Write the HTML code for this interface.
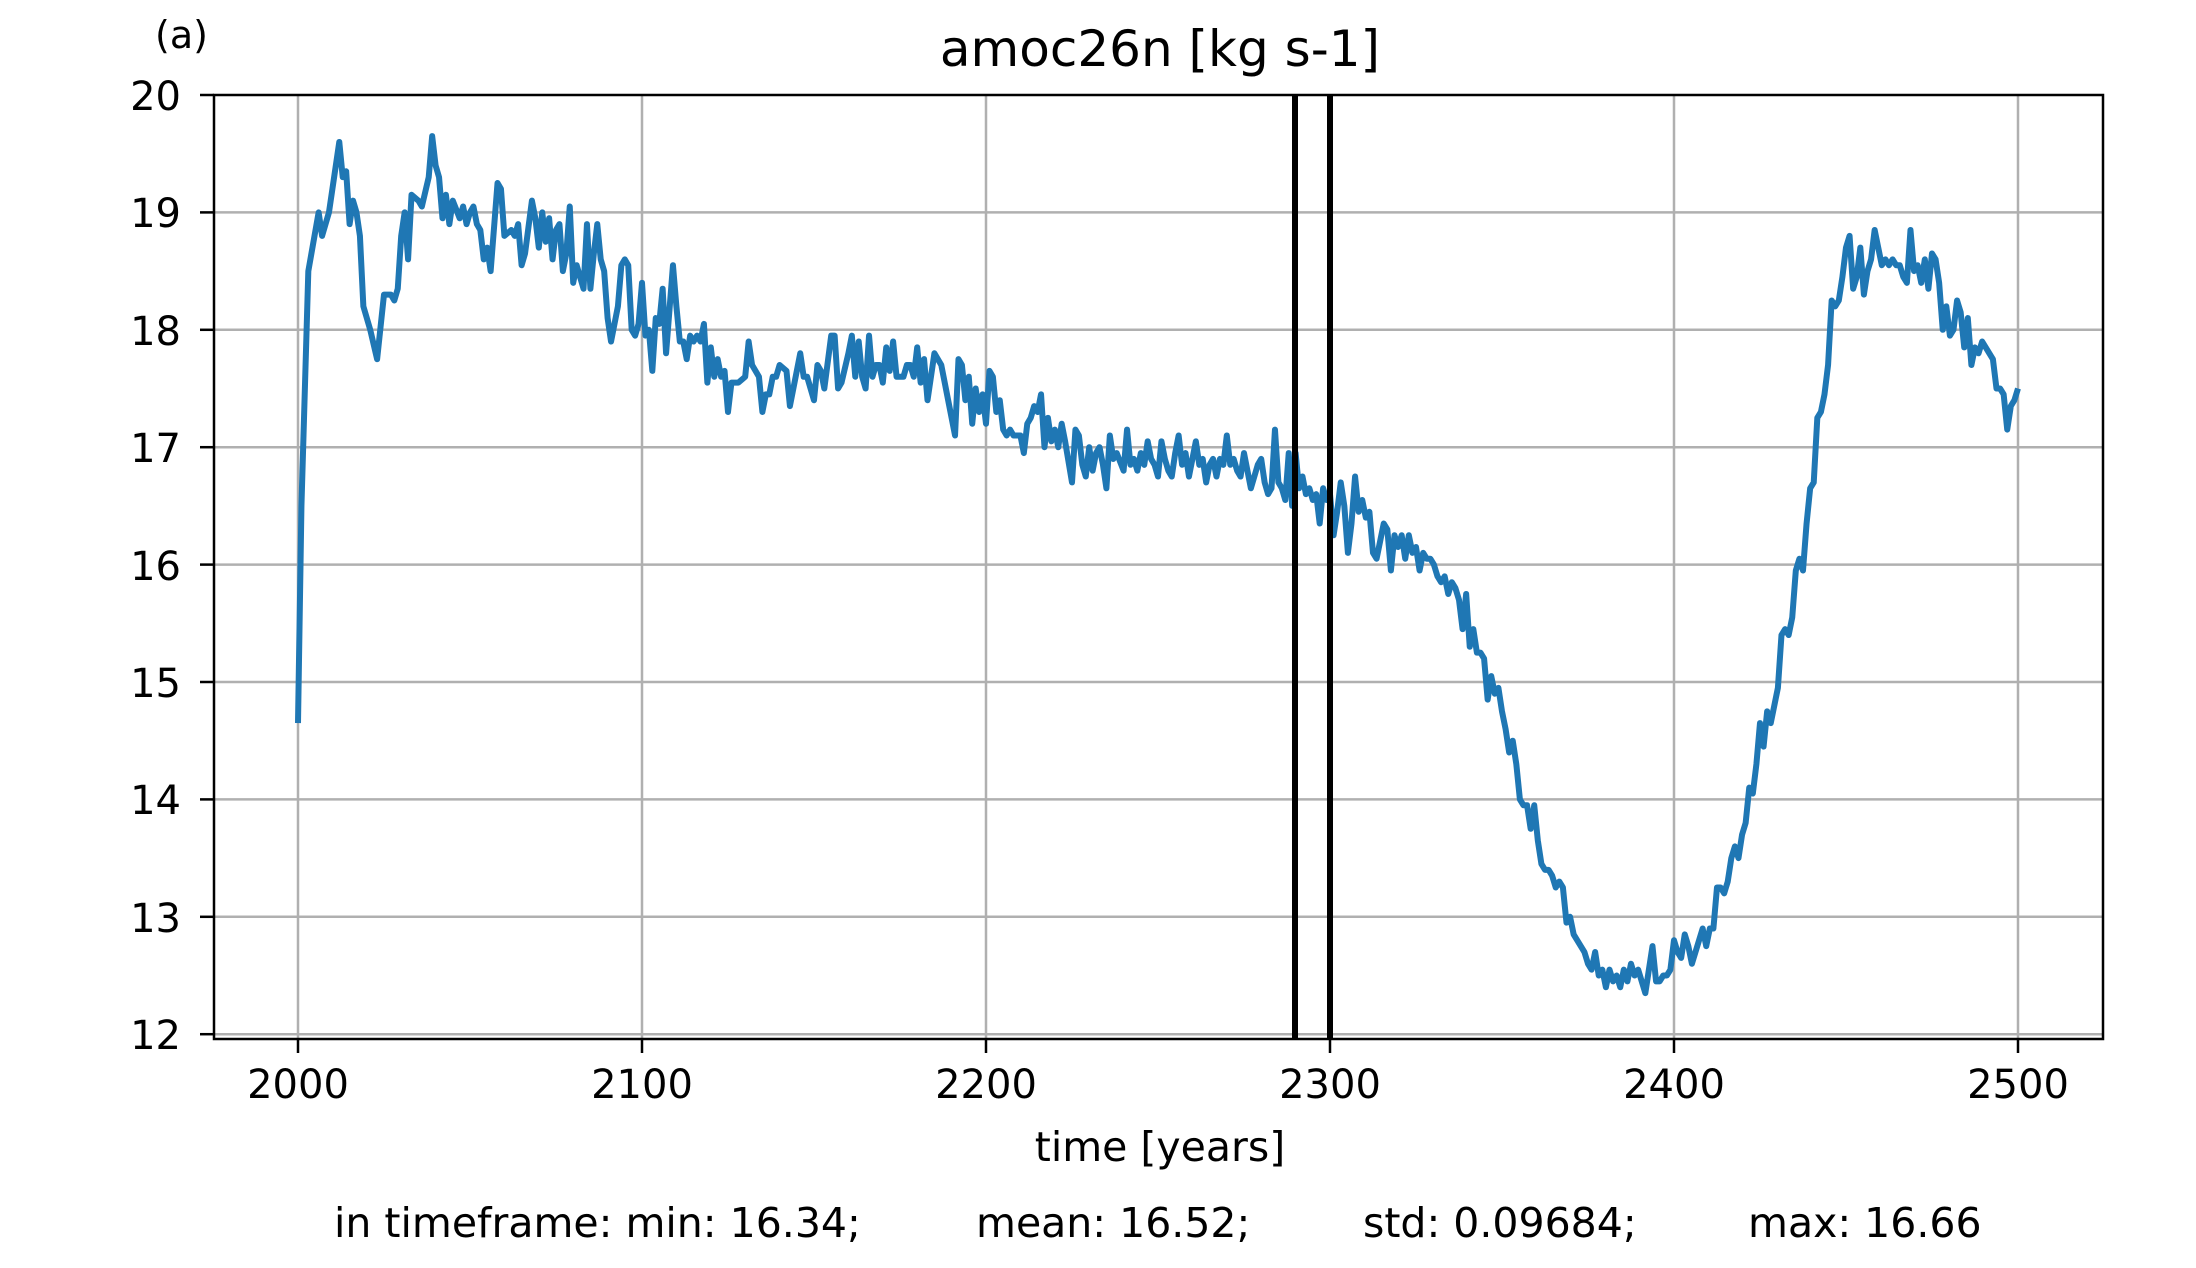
<!DOCTYPE html>
<html><head><meta charset="utf-8"><style>
html,body{margin:0;padding:0;background:#fff;}
svg text{font-family:"DejaVu Sans","Liberation Sans",sans-serif;fill:#000;}
</style></head><body>
<svg width="2196" height="1263" viewBox="0 0 2196 1263" xmlns="http://www.w3.org/2000/svg">
<rect width="2196" height="1263" fill="#fff"/>
<g stroke="#b0b0b0" stroke-width="2.5">
<line x1="298" y1="95" x2="298" y2="1039"/>
<line x1="642" y1="95" x2="642" y2="1039"/>
<line x1="986" y1="95" x2="986" y2="1039"/>
<line x1="1330" y1="95" x2="1330" y2="1039"/>
<line x1="1674" y1="95" x2="1674" y2="1039"/>
<line x1="2018" y1="95" x2="2018" y2="1039"/>
<line x1="214" y1="212.4" x2="2103" y2="212.4"/>
<line x1="214" y1="329.8" x2="2103" y2="329.8"/>
<line x1="214" y1="447.2" x2="2103" y2="447.2"/>
<line x1="214" y1="564.6" x2="2103" y2="564.6"/>
<line x1="214" y1="682" x2="2103" y2="682"/>
<line x1="214" y1="799.4" x2="2103" y2="799.4"/>
<line x1="214" y1="916.8" x2="2103" y2="916.8"/>
<line x1="214" y1="1034.2" x2="2103" y2="1034.2"/>
</g>
<polyline transform="matrix(3.44,0,0,-117.4,298,2443)" vector-effect="non-scaling-stroke" fill="none" stroke="#1f77b4" stroke-width="6" stroke-linejoin="round" points="0,14.65 1,16.5 3,18.5 6,19.0 7,18.8 9,19.0 10,19.2 12,19.6 13,19.3 14,19.35 15,18.9 16,19.1 17,19.0 18,18.8 19,18.2 21,18.0 23,17.75 25,18.3 27,18.3 28,18.25 29,18.35 30,18.8 31,19.0 32,18.6 33,19.15 35,19.1 36,19.05 38,19.3 39,19.65 40,19.4 41,19.3 42,18.95 43,19.15 44,18.9 45,19.1 47,18.95 48,19.05 49,18.9 50,19.0 51,19.05 52,18.9 53,18.85 54,18.6 55,18.7 56,18.5 58,19.25 59,19.2 60,18.8 62,18.85 63,18.8 64,18.9 65,18.55 66,18.65 68,19.1 69,18.95 70,18.7 71,19.0 72,18.75 73,18.95 74,18.6 75,18.85 76,18.9 77,18.5 78,18.65 79,19.05 80,18.4 81,18.55 82,18.45 83,18.35 84,18.9 85,18.35 86,18.65 87,18.9 88,18.6 89,18.5 90,18.1 91,17.9 93,18.2 94,18.55 95,18.6 96,18.55 97,18.0 98,17.95 99,18.05 100,18.4 101,17.95 102,18.0 103,17.65 104,18.1 105,18.05 106,18.35 107,17.8 109,18.55 110,18.2 111,17.9 112,17.9 113,17.75 114,17.95 115,17.9 116,17.95 117,17.9 118,18.05 119,17.55 120,17.85 121,17.6 122,17.75 123,17.6 124,17.65 125,17.3 126,17.55 128,17.55 130,17.6 131,17.9 132,17.7 133,17.65 134,17.6 135,17.3 136,17.45 137,17.45 138,17.6 139,17.6 140,17.7 142,17.65 143,17.35 145,17.65 146,17.8 147,17.6 148,17.6 150,17.4 151,17.7 152,17.65 153,17.5 155,17.95 156,17.95 157,17.5 158,17.55 160,17.8 161,17.95 162,17.6 163,17.9 164,17.6 165,17.5 166,17.95 167,17.6 168,17.7 169,17.7 170,17.55 171,17.85 172,17.65 173,17.9 174,17.6 176,17.6 177,17.7 178,17.7 179,17.6 180,17.85 181,17.55 182,17.75 183,17.4 185,17.8 187,17.7 189,17.4 191,17.1 192,17.75 193,17.7 194,17.4 195,17.6 196,17.2 197,17.5 198,17.3 199,17.45 200,17.2 201,17.65 202,17.6 203,17.3 204,17.4 205,17.15 206,17.1 207,17.15 208,17.1 209,17.1 210,17.1 211,16.95 212,17.2 213,17.25 214,17.35 215,17.3 216,17.45 217,17.0 218,17.25 219,17.05 220,17.15 221,17.0 222,17.2 223,17.05 225,16.7 226,17.15 227,17.1 228,16.85 229,16.75 230,17.0 231,16.8 232,16.95 233,17.0 234,16.85 235,16.65 236,17.1 237,16.9 238,16.95 240,16.8 241,17.15 242,16.85 243,16.9 244,16.8 245,16.95 246,16.85 247,17.05 248,16.9 249,16.85 250,16.75 251,17.05 252,16.9 253,16.8 254,16.75 255,16.95 256,17.1 257,16.85 258,16.95 259,16.75 260,16.9 261,17.05 262,16.85 263,16.9 264,16.7 265,16.85 266,16.9 267,16.75 268,16.9 269,16.85 270,17.1 271,16.85 272,16.9 273,16.8 274,16.75 275,16.95 276,16.8 277,16.65 278,16.75 279,16.85 280,16.9 281,16.7 282,16.6 283,16.65 284,17.15 285,16.7 286,16.65 287,16.55 288,16.95 289,16.5 290,16.95 291,16.65 292,16.75 293,16.6 294,16.65 295,16.55 296,16.6 297,16.35 298,16.65 299,16.55 300,16.6"/>
<polyline transform="matrix(3.5833,0,0,-117.4,255,2443)" vector-effect="non-scaling-stroke" fill="none" stroke="#1f77b4" stroke-width="6" stroke-linejoin="round" points="300,16.6 301,16.25 302,16.45 303,16.7 304,16.5 305,16.1 306,16.35 307,16.75 308,16.45 309,16.55 310,16.4 311,16.45 312,16.1 313,16.05 314,16.2 315,16.35 316,16.3 317,15.95 318,16.25 319,16.15 320,16.25 321,16.05 322,16.25 323,16.1 324,16.15 325,15.95 326,16.1 327,16.05 328,16.05 329,16.0 330,15.9 331,15.85 332,15.9 333,15.75 334,15.85 335,15.8 336,15.7 337,15.45 338,15.75 339,15.3 340,15.45 341,15.25 342,15.25 343,15.2 344,14.85 345,15.05 346,14.9 347,14.95 348,14.75 349,14.6 350,14.4 351,14.5 352,14.3 353,14.0 354,13.95 355,13.95 356,13.75 357,13.95 358,13.65 359,13.45 360,13.4 361,13.4 362,13.35 363,13.25 364,13.3 365,13.25 366,12.95 367,13.0 368,12.85 369,12.8 370,12.75 371,12.7 372,12.6 373,12.55 374,12.7 375,12.5 376,12.55 377,12.4 378,12.55 379,12.45 380,12.5 381,12.4 382,12.55 383,12.45 384,12.6 385,12.5 386,12.55 387,12.45 388,12.35 389,12.55 390,12.75 391,12.45 392,12.45 393,12.5 394,12.5 395,12.55 396,12.8 397,12.7 398,12.65 399,12.85 400,12.75 401,12.6 402,12.7 403,12.8 404,12.9 405,12.75 406,12.9 407,12.9 408,13.25 409,13.25 410,13.2 411,13.3 412,13.5 413,13.6 414,13.5 415,13.7 416,13.8 417,14.1 418,14.05 419,14.3 420,14.65 421,14.45 422,14.75 423,14.65 424,14.8 425,14.95 426,15.4 427,15.45 428,15.4 429,15.55 430,15.95 431,16.05 432,15.95 433,16.35 434,16.65 435,16.7 436,17.25 437,17.3 438,17.45 439,17.7 440,18.25 441,18.2 442,18.25 443,18.45 444,18.7 445,18.8 446,18.35 447,18.45 448,18.7 449,18.3 450,18.5 451,18.6 452,18.85 453,18.7 454,18.55 455,18.6 456,18.55 457,18.6 458,18.55 459,18.55 460,18.45 461,18.4 462,18.85 463,18.5 464,18.55 465,18.4 466,18.6 467,18.35 468,18.65 469,18.6 470,18.4 471,18.0 472,18.2 473,17.95 474,18.0 475,18.25 476,18.15 477,17.85 478,18.1 479,17.7 480,17.85 481,17.8 482,17.9 483,17.85 484,17.8 485,17.75 486,17.5 487,17.5 488,17.45 489,17.15 490,17.35 491,17.4 492,17.5"/>
<line x1="1295" y1="95" x2="1295" y2="1039" stroke="#000" stroke-width="6"/>
<line x1="1330" y1="95" x2="1330" y2="1039" stroke="#000" stroke-width="6"/>
<rect x="214" y="95" width="1889" height="944" fill="none" stroke="#000" stroke-width="2.5"/>
<g stroke="#000" stroke-width="2.5">
<line x1="298" y1="1039" x2="298" y2="1053"/>
<line x1="642" y1="1039" x2="642" y2="1053"/>
<line x1="986" y1="1039" x2="986" y2="1053"/>
<line x1="1330" y1="1039" x2="1330" y2="1053"/>
<line x1="1674" y1="1039" x2="1674" y2="1053"/>
<line x1="2018" y1="1039" x2="2018" y2="1053"/>
<line x1="200" y1="95" x2="214" y2="95"/>
<line x1="200" y1="212.4" x2="214" y2="212.4"/>
<line x1="200" y1="329.8" x2="214" y2="329.8"/>
<line x1="200" y1="447.2" x2="214" y2="447.2"/>
<line x1="200" y1="564.6" x2="214" y2="564.6"/>
<line x1="200" y1="682" x2="214" y2="682"/>
<line x1="200" y1="799.4" x2="214" y2="799.4"/>
<line x1="200" y1="916.8" x2="214" y2="916.8"/>
<line x1="200" y1="1034.2" x2="214" y2="1034.2"/>
</g>
<g font-size="40" text-anchor="end">
<text x="181" y="110">20</text>
<text x="181" y="227">19</text>
<text x="181" y="345">18</text>
<text x="181" y="462">17</text>
<text x="181" y="580">16</text>
<text x="181" y="697">15</text>
<text x="181" y="814">14</text>
<text x="181" y="932">13</text>
<text x="181" y="1049">12</text>
</g>
<g font-size="40" text-anchor="middle">
<text x="298" y="1098">2000</text>
<text x="642" y="1098">2100</text>
<text x="986" y="1098">2200</text>
<text x="1330" y="1098">2300</text>
<text x="1674" y="1098">2400</text>
<text x="2018" y="1098">2500</text>
<text x="1160" y="1161" font-size="41">time [years]</text>
<text x="1160" y="66" font-size="50">amoc26n [kg s-1]</text>
</g>
<text x="155" y="48" font-size="38">(a)</text>
<g font-size="41">
<text x="334" y="1237">in timeframe: min: 16.34;</text>
<text x="976" y="1237">mean: 16.52;</text>
<text x="1363" y="1237">std: 0.09684;</text>
<text x="1748" y="1237">max: 16.66</text>
</g>
</svg>
</body></html>
